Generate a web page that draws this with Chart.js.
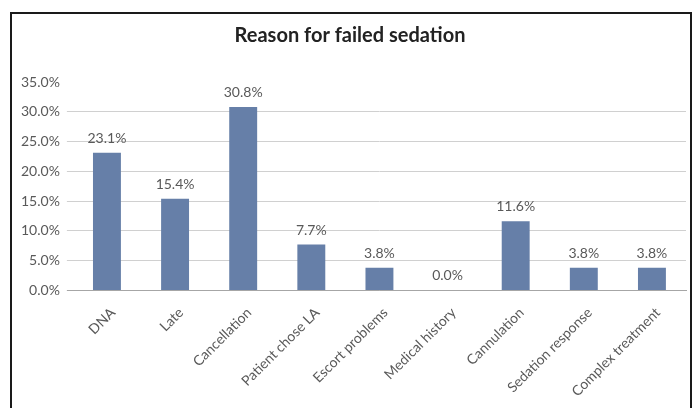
<!DOCTYPE html>
<html>
<head>
<meta charset="utf-8">
<script src="https://cdn.jsdelivr.net/npm/chart.js@4.4.0/dist/chart.umd.min.js"></script>
<style>
  html, body { margin: 0; padding: 0; background: #fff; overflow: hidden; }
  #frame {
    position: absolute; left: 10px; top: 12px;
    width: 678px; height: 410px;
    border: 2px solid #1a1a1a;
  }
</style>
</head>
<body>
<div id="frame"><canvas id="failChart"></canvas></div>
<script>
const categories = ['DNA', 'Late', 'Cancellation', 'Patient chose LA', 'Escort problems',
                    'Medical history', 'Cannulation', 'Sedation response', 'Complex treatment'];
const percentValues = [23.1, 15.4, 30.8, 7.7, 3.8, 0.0, 11.6, 3.8, 3.8];
const yTicks = [0, 5, 10, 15, 20, 25, 30, 35];

const FONT = 'Lato, "DejaVu Sans", sans-serif';
const colors = {
    bar: '#667fa8',   // azul acinzentado das barras
    text: '#595959',
    grid: '#d0d0d0',
    axis: '#a6a6a6'
};

// rótulos de valor por cima das barras
const valueLabels = {
    id: 'valueLabels',
    afterDatasetsDraw(chart) {
        const ctx = chart.ctx;
        const meta = chart.getDatasetMeta(0);
        ctx.save();
        ctx.font = '14px ' + FONT;
        ctx.fillStyle = colors.text;
        ctx.textAlign = 'center';
        ctx.textBaseline = 'alphabetic';
        meta.data.forEach((bar, i) => {
            ctx.fillText(percentValues[i].toFixed(1) + '%', bar.x, bar.y - 10);
        });
        ctx.restore();
    }
};

new Chart(document.getElementById('failChart'), {
    type: 'bar',
    data: {
        labels: categories,
        datasets: [{
            data: percentValues,
            backgroundColor: colors.bar,
            borderWidth: 0,
            barPercentage: 0.41,
            categoryPercentage: 1.0
        }]
    },
    options: {
        responsive: true,
        maintainAspectRatio: false,
        animation: false,
        layout: { padding: { left: 2, right: 4, top: 8, bottom: 18 } },
        plugins: {
            legend: { display: false },
            tooltip: { enabled: false },
            title: {
                display: true,
                text: 'Reason for failed sedation',
                color: '#222',
                font: { family: FONT, size: 20, weight: 'bold' },
                padding: { top: 2, bottom: 34 }
            }
        },
        scales: {
            y: {
                min: 0, max: 35,
                afterBuildTicks: axis => { axis.ticks = yTicks.map(v => ({ value: v })); },
                ticks: {
                    color: colors.text,
                    padding: 7,
                    font: { family: FONT, size: 14 },
                    callback: v => v.toFixed(1) + '%'
                },
                grid: {
                    drawTicks: true,
                    tickLength: 6,
                    tickColor: c => c.tick.value === 0 ? colors.axis : (c.tick.value === 35 ? 'rgba(0,0,0,0)' : colors.grid),
                    color: c => (c.tick && c.tick.value === 35) ? 'rgba(0,0,0,0)'
                              : (c.tick && c.tick.value === 0 ? colors.axis : colors.grid)
                },
                border: { display: false }
            },
            x: {
                ticks: {
                    color: colors.text,
                    minRotation: 45, maxRotation: 45,
                    padding: 6,
                    labelOffset: 6,
                    autoSkip: false,
                    font: { family: FONT, size: 14 }
                },
                grid: { display: false },
                border: { color: colors.axis, width: 1 }
            }
        }
    },
    plugins: [valueLabels]
});
</script>
</body>
</html>
